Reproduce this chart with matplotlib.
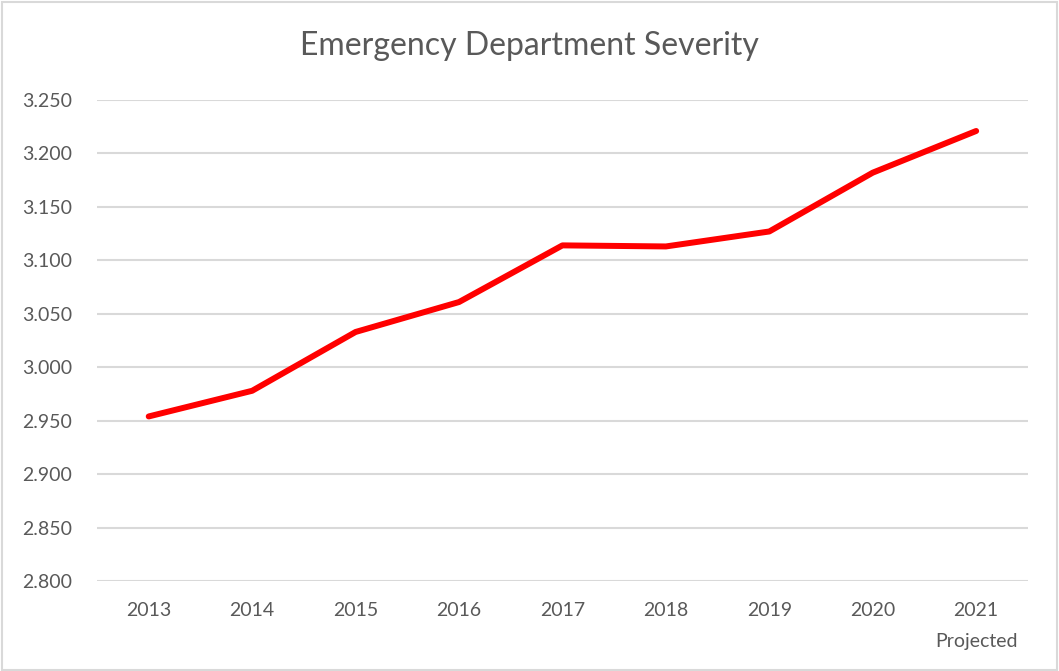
import matplotlib
matplotlib.use("Agg")

import matplotlib.pyplot as plt
from matplotlib.patches import Rectangle

years = ["2013", "2014", "2015", "2016", "2017", "2018", "2019", "2020", "2021"]
severity = [2.954, 2.978, 3.033, 3.061, 3.114, 3.113, 3.127, 3.182, 3.221]
y_ticks = [2.80, 2.85, 2.90, 2.95, 3.00, 3.05, 3.10, 3.15, 3.20, 3.25]

plt.rcParams["font.family"] = ["Lato", "DejaVu Sans"]
grey = "#595959"

fig = plt.figure(figsize=(10.59, 6.71), dpi=100)
ax = fig.add_axes([0.0916, 0.134, 0.879, 0.717])

x = list(range(len(years)))
ax.plot(x, severity, color="#ff0000", linewidth=4.3, solid_capstyle="round",
        solid_joinstyle="round", zorder=3)

ax.set_xlim(-0.5, len(years) - 0.5)
ax.set_ylim(2.80, 3.25)
ax.set_yticks(y_ticks)
ax.set_yticklabels([f"{v:.3f}" for v in y_ticks])
ax.set_xticks(x)
ax.set_xticklabels(years)
ax.tick_params(axis="both", length=0, colors=grey, labelsize=14)
ax.tick_params(axis="x", pad=15)
ax.tick_params(axis="y", pad=18)
ax.grid(axis="y", color="#d9d9d9", linewidth=1.5)
ax.set_axisbelow(True)
for s in ax.spines.values():
    s.set_visible(False)

# second line under the last category
ax.text(x[-1], -0.125, "Projected", transform=ax.get_xaxis_transform(),
        ha="center", va="center", fontsize=14, color=grey)

fig.text(0.5, 0.932, "Emergency Department Severity", ha="center", va="center",
         fontsize=23, color=grey)

# outer chart border
fig.patches.append(Rectangle((0.002, 0.002), 0.996, 0.995, transform=fig.transFigure,
                             fill=False, edgecolor="#d9d9d9", linewidth=1.5))

fig.savefig("out.png", dpi=100)
plt.close(fig)
